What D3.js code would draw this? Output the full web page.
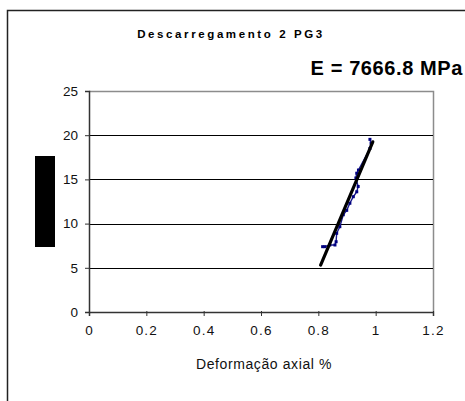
<!DOCTYPE html>
<html>
<head>
<meta charset="utf-8">
<script src="https://cdn.jsdelivr.net/npm/d3@7"></script>
<style>
  body { margin: 0; background: #fff; }
  text { font-family: Arial, "Liberation Sans", sans-serif; }
</style>
</head>
<body>
<svg id="chart" width="465" height="401"></svg>
<script>
// Measured unloading points: axial strain (%) and stress (MPa)
const strain = [0.815, 0.823, 0.840, 0.858, 0.862, 0.864, 0.875, 0.887, 0.899, 0.910, 0.922, 0.934, 0.939, 0.931, 0.934, 0.940, 0.980, 0.984, 0.980];
const stress = [7.39, 7.39, 7.58, 7.58, 7.95, 8.90, 9.65, 11.00, 11.50, 12.30, 13.04, 13.60, 14.20, 15.16, 15.70, 16.06, 18.50, 19.08, 19.53];

// Linear fit segment (slope = modulus E in MPa per %/100)
const fitX = [0.808, 0.990];
const modulus = 7666.8;
const fitY0 = 5.3;

const xTicks = [0, 0.2, 0.4, 0.6, 0.8, 1, 1.2];
const yTicks = [0, 5, 10, 15, 20, 25];

const title = "Descarregamento 2 PG3";
const modulusLabel = "E = 7666.8 MPa";
const xLabel = "Deformação axial %";

const svg = d3.select("#chart");
const plot = { left: 89, right: 433, top: 91, bottom: 312 };

const x = d3.scaleLinear().domain([0, 1.2]).range([plot.left, plot.right]);
const y = d3.scaleLinear().domain([0, 25]).range([plot.bottom, plot.top]);

// Outer chart frame
svg.append("rect")
  .attr("x", 7.5).attr("y", 10.5)
  .attr("width", 470).attr("height", 400)
  .attr("fill", "none").attr("stroke", "#222").attr("stroke-width", 1.5);

// Plot frame (grey top and right)
svg.append("path")
  .attr("d", `M${plot.left},${plot.top + 0.5}H${plot.right + 0.5}V${plot.bottom}`)
  .attr("fill", "none").attr("stroke", "#8c8c8c").attr("stroke-width", 1.5);

// Horizontal gridlines
svg.append("g").selectAll("line")
  .data(yTicks.filter(d => d > 0 && d < 25))
  .join("line")
  .attr("x1", plot.left).attr("x2", plot.right)
  .attr("y1", d => Math.round(y(d)) + 0.5).attr("y2", d => Math.round(y(d)) + 0.5)
  .attr("stroke", "#000").attr("stroke-width", 1);

// Y axis
const yAxis = svg.append("g")
  .attr("transform", `translate(${plot.left},0)`)
  .call(d3.axisLeft(y).tickValues(yTicks).tickSize(4).tickPadding(7).tickFormat(d3.format("d")));
yAxis.select(".domain").attr("stroke", "#333").attr("stroke-width", 1.5);
yAxis.selectAll(".tick line").attr("stroke", "#333");
yAxis.selectAll("text").attr("font-size", 13.5).attr("fill", "#111");

// X axis
const xAxis = svg.append("g")
  .attr("transform", `translate(0,${plot.bottom})`)
  .call(d3.axisBottom(x).tickValues(xTicks).tickSizeOuter(0).tickSize(4).tickPadding(9).tickFormat(d => String(d)));
xAxis.select(".domain").attr("stroke", "#333").attr("stroke-width", 1.5);
xAxis.selectAll(".tick line").attr("stroke", "#333").attr("y1", -1);
xAxis.selectAll("text").attr("font-size", 13.5).attr("letter-spacing", 1.2).attr("fill", "#111");

// Measured points
const pts = strain.map((s, i) => [s, stress[i]]);
svg.append("path")
  .datum(pts)
  .attr("d", d3.line().x(d => x(d[0])).y(d => y(d[1])))
  .attr("fill", "none").attr("stroke", "#1a1a8c").attr("stroke-width", 1.4);
svg.append("g").selectAll("rect")
  .data(pts)
  .join("rect")
  .attr("x", d => x(d[0]) - 1.5).attr("y", d => y(d[1]) - 1.5)
  .attr("width", 3).attr("height", 3)
  .attr("fill", "#000080");

// Fitted line
const slope = modulus / 100;
const fitPts = fitX.map(v => [v, fitY0 + slope * (v - fitX[0])]);
svg.append("path")
  .datum(fitPts)
  .attr("d", d3.line().x(d => x(d[0])).y(d => y(d[1])))
  .attr("fill", "none").attr("stroke", "#000").attr("stroke-width", 3.2)
  .attr("stroke-linecap", "round");

// Y axis title block
svg.append("rect")
  .attr("x", 35).attr("y", 156).attr("width", 20).attr("height", 91)
  .attr("fill", "#000");

// Titles
svg.append("text")
  .attr("x", 231).attr("y", 38)
  .attr("text-anchor", "middle")
  .attr("font-size", 11.5).attr("font-weight", "bold")
  .attr("letter-spacing", 2.6)
  .text(title);

svg.append("text")
  .attr("x", 463).attr("y", 75)
  .attr("text-anchor", "end")
  .attr("font-size", 20).attr("font-weight", "bold")
  .attr("letter-spacing", 0.6)
  .text(modulusLabel);

svg.append("text")
  .attr("x", 264).attr("y", 369)
  .attr("text-anchor", "middle")
  .attr("font-size", 14).attr("letter-spacing", 0.6).attr("fill", "#111")
  .text(xLabel);
</script>
</body>
</html>
